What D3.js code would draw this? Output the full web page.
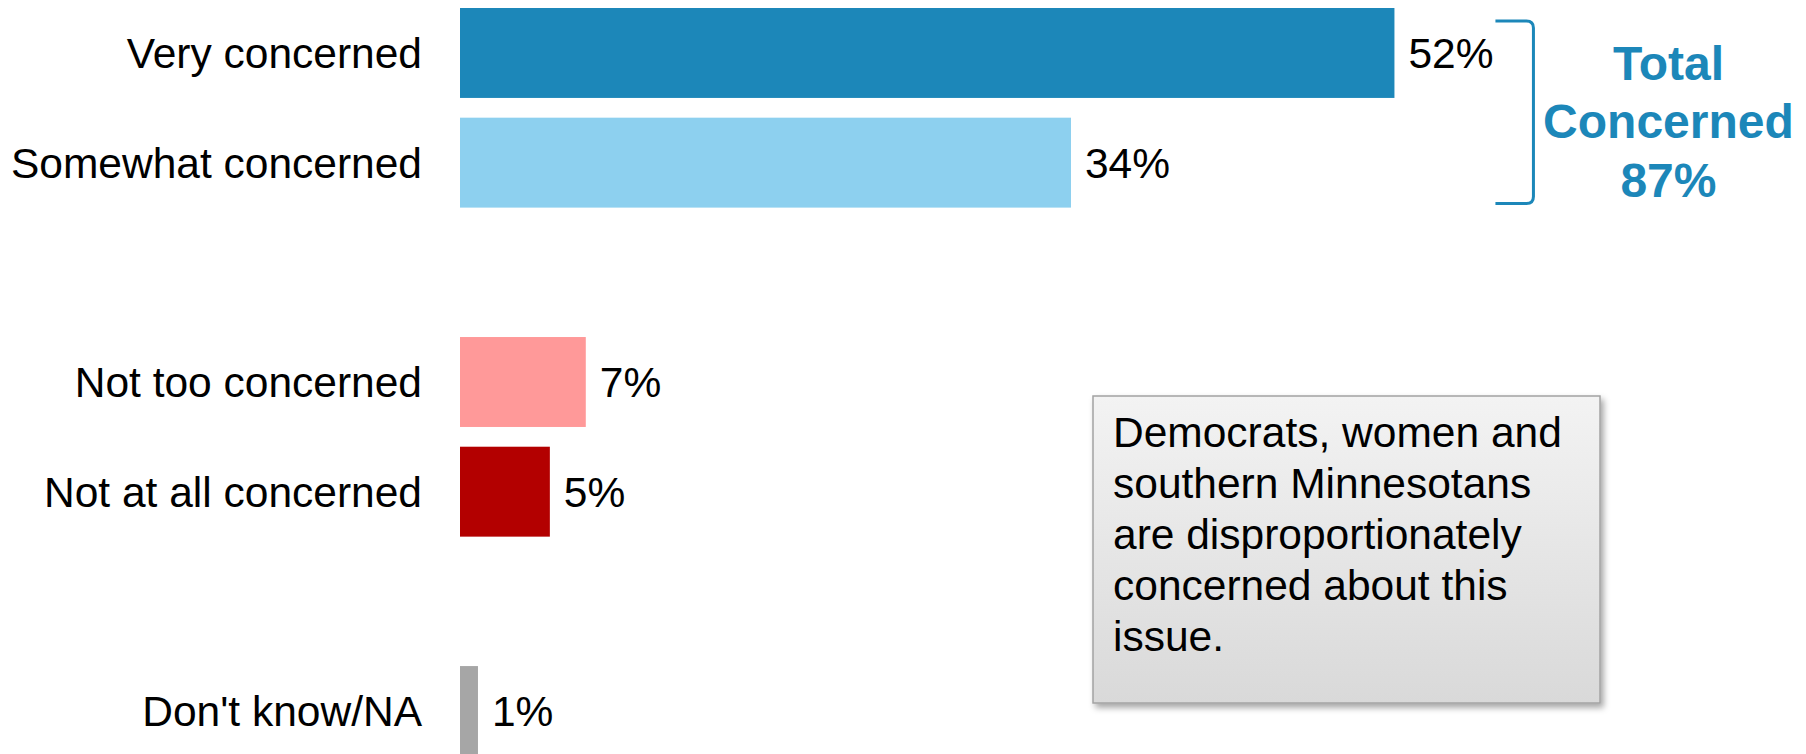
<!DOCTYPE html>
<html>
<head>
<meta charset="utf-8">
<script src="https://cdn.jsdelivr.net/npm/d3@7"></script>
<style>
    body { margin: 0; background: #fff; }
    text { font-family: "Liberation Sans", Arial, sans-serif; }
</style>
</head>
<body>
<div id="chart"></div>
<script>
//Datos
const categories = ['Very concerned', 'Somewhat concerned', 'Not too concerned', 'Not at all concerned', "Don't know/NA"];
const values = [52, 34, 7, 5, 1];
const groups = ['concerned', 'concerned', 'not', 'not', 'dk'];
const totalLines = ['Total', 'Concerned', '87%'];
const noteLines = ['Democrats, women and', 'southern Minnesotans', 'are disproportionately', 'concerned about this', 'issue.'];

//Colores fijos
const COLORS = ['#1C87B9', '#8DD0EF', '#FF9999', '#B30000', '#A6A6A6'];
const COLOR_TOTAL = '#1C87B9';

let width = 1806,
    height = 754;

let svg = d3.select('#chart')
    .append('svg')
        .attr('width', width)
        .attr('height', height);

let defs = svg.append('defs');

let grad = defs.append('linearGradient')
    .attr('id', 'boxGrad')
    .attr('x1', 0).attr('y1', 0).attr('x2', 0).attr('y2', 1);
grad.append('stop').attr('offset', '0%').attr('stop-color', '#F3F3F3');
grad.append('stop').attr('offset', '100%').attr('stop-color', '#D9D9D9');

defs.append('filter')
    .attr('id', 'shadow')
    .attr('x', '-10%').attr('y', '-10%').attr('width', '130%').attr('height', '130%')
    .append('feDropShadow')
        .attr('dx', 3).attr('dy', 4)
        .attr('stdDeviation', 3)
        .attr('flood-color', '#000')
        .attr('flood-opacity', 0.35);

//Dominio con huecos entre grupos
let domain = [];
categories.forEach(function(c, i) {
    if (i > 0 && groups[i] != groups[i - 1]) domain.push('gap' + i);
    domain.push(c);
});

let x = d3.scaleLinear()
    .domain([0, 100])
    .range([460, 460 + 1797]);

let y = d3.scaleBand()
    .domain(domain)
    .range([8, 756])
    .paddingInner(0.18)
    .paddingOuter(0);

let data = categories.map(function(c, i) {
    return { cat: c, value: values[i], color: COLORS[i] };
});

//Barras
svg.selectAll('.rect')
    .data(data)
    .enter()
    .append('rect')
    .attr('class', 'rect')
    .attr('x', x(0))
    .attr('y', function(d) { return y(d.cat); })
    .attr('width', function(d) { return x(d.value) - x(0); })
    .attr('height', y.bandwidth())
    .attr('fill', function(d) { return d.color; });

//Etiquetas de categoría
svg.selectAll('.cat-label')
    .data(data)
    .enter()
    .append('text')
    .attr('class', 'cat-label')
    .attr('x', x(0) - 38)
    .attr('y', function(d) { return y(d.cat) + y.bandwidth() / 2; })
    .attr('dy', '0.35em')
    .attr('text-anchor', 'end')
    .style('font-size', '42.5px')
    .attr('fill', '#000')
    .text(function(d) { return d.cat; });

//Valores
svg.selectAll('.val-label')
    .data(data)
    .enter()
    .append('text')
    .attr('class', 'val-label')
    .attr('x', function(d) { return x(d.value) + 14; })
    .attr('y', function(d) { return y(d.cat) + y.bandwidth() / 2; })
    .attr('dy', '0.35em')
    .style('font-size', '42.5px')
    .attr('fill', '#000')
    .text(function(d) { return d.value + '%'; });

//Corchete del total
let bx1 = x(values[0]) + 101,
    bx2 = bx1 + 38,
    by1 = y(categories[0]) + 13,
    by2 = y(categories[1]) + y.bandwidth() - 4,
    r = 7;

svg.append('path')
    .attr('d', 'M' + bx1 + ',' + by1 +
        ' L' + (bx2 - r) + ',' + by1 +
        ' Q' + bx2 + ',' + by1 + ' ' + bx2 + ',' + (by1 + r) +
        ' L' + bx2 + ',' + (by2 - r) +
        ' Q' + bx2 + ',' + by2 + ' ' + (bx2 - r) + ',' + by2 +
        ' L' + bx1 + ',' + by2)
    .attr('fill', 'none')
    .attr('stroke', COLOR_TOTAL)
    .attr('stroke-width', 3);

svg.append('text')
    .attr('x', bx2 + 135)
    .attr('y', 79.5)
    .attr('text-anchor', 'middle')
    .style('font-size', '48px')
    .style('font-weight', 'bold')
    .attr('fill', COLOR_TOTAL)
    .selectAll('tspan')
    .data(totalLines)
    .enter()
    .append('tspan')
    .attr('x', bx2 + 135)
    .attr('dy', function(d, i) { return i == 0 ? 0 : 58.5; })
    .text(function(d) { return d; });

//Cuadro de nota
let box = svg.append('g');

box.append('rect')
    .attr('x', 1093)
    .attr('y', 396)
    .attr('width', 507)
    .attr('height', 307)
    .attr('fill', 'url(#boxGrad)')
    .attr('stroke', '#A3A3A3')
    .attr('stroke-width', 1.5)
    .attr('filter', 'url(#shadow)');

box.append('text')
    .attr('x', 1113)
    .attr('y', 447)
    .style('font-size', '42.5px')
    .attr('fill', '#000')
    .selectAll('tspan')
    .data(noteLines)
    .enter()
    .append('tspan')
    .attr('x', 1113)
    .attr('dy', function(d, i) { return i == 0 ? 0 : 51; })
    .text(function(d) { return d; });
</script>
</body>
</html>
